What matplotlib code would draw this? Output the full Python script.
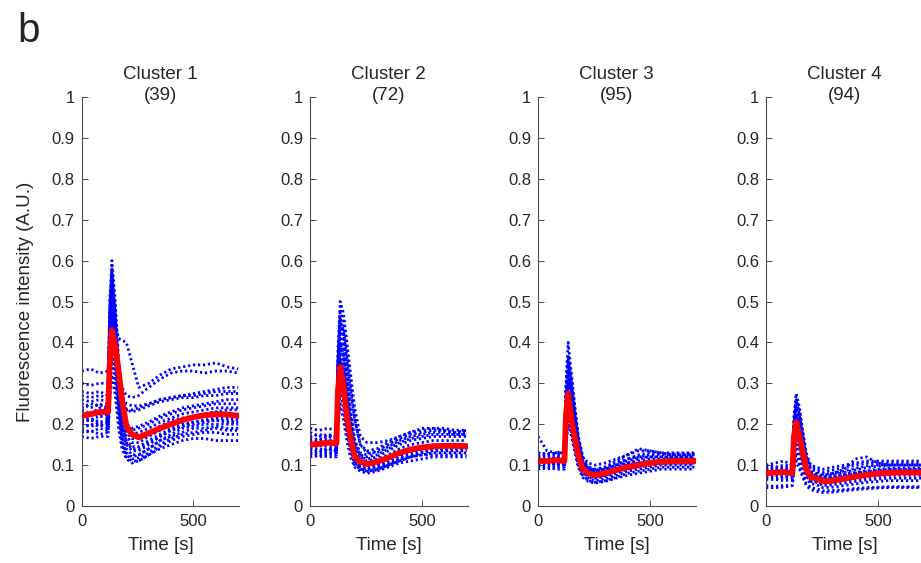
import numpy as np
import matplotlib.pyplot as plt

plt.rcParams['font.family'] = ['Liberation Sans', 'DejaVu Sans']

# sampling times [s], shared by every trace
time_s = [0, 40, 80, 118, 125, 135, 150, 165, 180, 200, 225, 255, 300, 350, 400, 450, 500, 550, 600, 650, 700]

cluster_names = ['Cluster 1', 'Cluster 2', 'Cluster 3', 'Cluster 4']
cluster_sizes = [39, 72, 95, 94]

y_ticks = [0, 0.1, 0.2, 0.3, 0.4, 0.5, 0.6, 0.7, 0.8, 0.9, 1]
x_ticks = [0, 500]

# single cells (subset of the traces)
c1_cells = [
    [0.33, 0.335, 0.325, 0.33, 0.45, 0.50, 0.45, 0.41, 0.405, 0.40, 0.35, 0.29, 0.30, 0.32, 0.335, 0.34, 0.345, 0.345, 0.35, 0.34, 0.335],
    [0.30, 0.295, 0.30, 0.30, 0.42, 0.48, 0.40, 0.33, 0.29, 0.27, 0.265, 0.27, 0.29, 0.31, 0.325, 0.33, 0.33, 0.325, 0.33, 0.33, 0.325],
    [0.28, 0.275, 0.28, 0.27, 0.45, 0.55, 0.46, 0.34, 0.27, 0.25, 0.245, 0.245, 0.25, 0.26, 0.265, 0.27, 0.275, 0.28, 0.285, 0.29, 0.29],
    [0.26, 0.255, 0.26, 0.255, 0.48, 0.58, 0.48, 0.34, 0.26, 0.235, 0.23, 0.235, 0.245, 0.255, 0.26, 0.265, 0.265, 0.27, 0.27, 0.275, 0.275],
    [0.24, 0.25, 0.245, 0.25, 0.50, 0.60, 0.50, 0.36, 0.25, 0.20, 0.185, 0.19, 0.20, 0.215, 0.225, 0.235, 0.24, 0.245, 0.25, 0.25, 0.25],
    [0.23, 0.22, 0.235, 0.23, 0.40, 0.52, 0.42, 0.30, 0.21, 0.17, 0.155, 0.155, 0.17, 0.185, 0.20, 0.21, 0.22, 0.225, 0.23, 0.235, 0.235],
    [0.21, 0.215, 0.205, 0.21, 0.38, 0.45, 0.38, 0.26, 0.18, 0.15, 0.135, 0.135, 0.15, 0.17, 0.185, 0.195, 0.205, 0.21, 0.215, 0.215, 0.21],
    [0.20, 0.195, 0.20, 0.19, 0.33, 0.40, 0.34, 0.24, 0.16, 0.13, 0.12, 0.125, 0.14, 0.16, 0.175, 0.19, 0.195, 0.20, 0.20, 0.20, 0.20],
    [0.18, 0.185, 0.175, 0.18, 0.30, 0.36, 0.30, 0.22, 0.15, 0.12, 0.11, 0.11, 0.125, 0.145, 0.16, 0.17, 0.175, 0.18, 0.18, 0.175, 0.175],
    [0.17, 0.165, 0.17, 0.17, 0.26, 0.32, 0.27, 0.19, 0.14, 0.115, 0.105, 0.11, 0.125, 0.14, 0.15, 0.16, 0.165, 0.165, 0.16, 0.16, 0.16],
    [0.22, 0.23, 0.22, 0.225, 0.44, 0.56, 0.45, 0.32, 0.22, 0.18, 0.165, 0.165, 0.18, 0.195, 0.21, 0.215, 0.22, 0.225, 0.23, 0.225, 0.225],
    [0.19, 0.20, 0.195, 0.20, 0.36, 0.47, 0.39, 0.27, 0.19, 0.16, 0.145, 0.145, 0.16, 0.175, 0.19, 0.20, 0.205, 0.21, 0.21, 0.21, 0.205],
    [0.25, 0.24, 0.25, 0.24, 0.42, 0.53, 0.43, 0.31, 0.23, 0.20, 0.19, 0.195, 0.205, 0.22, 0.23, 0.24, 0.245, 0.25, 0.255, 0.26, 0.26],
    [0.215, 0.21, 0.22, 0.215, 0.35, 0.43, 0.36, 0.25, 0.17, 0.14, 0.125, 0.125, 0.14, 0.16, 0.17, 0.18, 0.19, 0.19, 0.195, 0.19, 0.19],
    [0.205, 0.21, 0.20, 0.205, 0.40, 0.50, 0.41, 0.29, 0.20, 0.155, 0.14, 0.14, 0.155, 0.17, 0.185, 0.195, 0.20, 0.205, 0.21, 0.205, 0.205],
    [0.235, 0.225, 0.24, 0.235, 0.46, 0.57, 0.47, 0.33, 0.23, 0.19, 0.175, 0.18, 0.19, 0.205, 0.215, 0.225, 0.23, 0.235, 0.24, 0.24, 0.24],
    [0.185, 0.18, 0.19, 0.185, 0.32, 0.38, 0.32, 0.23, 0.16, 0.125, 0.115, 0.118, 0.13, 0.15, 0.165, 0.175, 0.18, 0.185, 0.19, 0.185, 0.185],
    [0.27, 0.265, 0.27, 0.265, 0.40, 0.49, 0.41, 0.31, 0.25, 0.235, 0.235, 0.24, 0.25, 0.26, 0.265, 0.27, 0.27, 0.275, 0.28, 0.28, 0.28],
]
c1_mean = [0.22, 0.225, 0.23, 0.23, 0.34, 0.43, 0.39, 0.33, 0.26, 0.195, 0.175, 0.168, 0.178, 0.19, 0.20, 0.21, 0.217, 0.222, 0.224, 0.224, 0.22]

c2_cells = [
    [0.19, 0.185, 0.19, 0.185, 0.38, 0.50, 0.47, 0.40, 0.33, 0.24, 0.17, 0.155, 0.155, 0.16, 0.17, 0.18, 0.185, 0.19, 0.185, 0.18, 0.18],
    [0.17, 0.175, 0.17, 0.175, 0.36, 0.46, 0.42, 0.33, 0.24, 0.16, 0.13, 0.125, 0.135, 0.15, 0.165, 0.175, 0.18, 0.185, 0.185, 0.18, 0.185],
    [0.16, 0.165, 0.16, 0.165, 0.33, 0.42, 0.36, 0.28, 0.21, 0.14, 0.12, 0.115, 0.12, 0.135, 0.15, 0.16, 0.165, 0.17, 0.17, 0.17, 0.17],
    [0.15, 0.145, 0.155, 0.15, 0.30, 0.38, 0.32, 0.24, 0.18, 0.125, 0.11, 0.105, 0.11, 0.12, 0.13, 0.14, 0.145, 0.15, 0.15, 0.15, 0.15],
    [0.14, 0.14, 0.135, 0.14, 0.26, 0.33, 0.28, 0.21, 0.16, 0.115, 0.10, 0.095, 0.10, 0.11, 0.12, 0.13, 0.135, 0.14, 0.14, 0.14, 0.14],
    [0.13, 0.125, 0.13, 0.13, 0.22, 0.29, 0.24, 0.18, 0.14, 0.10, 0.09, 0.085, 0.09, 0.10, 0.11, 0.12, 0.125, 0.13, 0.13, 0.13, 0.13],
    [0.12, 0.125, 0.12, 0.12, 0.20, 0.25, 0.21, 0.16, 0.12, 0.095, 0.085, 0.08, 0.085, 0.095, 0.105, 0.11, 0.115, 0.12, 0.12, 0.12, 0.12],
    [0.155, 0.16, 0.15, 0.16, 0.34, 0.44, 0.40, 0.31, 0.22, 0.15, 0.125, 0.12, 0.125, 0.14, 0.155, 0.165, 0.17, 0.175, 0.175, 0.175, 0.175],
    [0.145, 0.15, 0.145, 0.145, 0.28, 0.35, 0.30, 0.22, 0.17, 0.12, 0.105, 0.10, 0.105, 0.115, 0.125, 0.135, 0.14, 0.145, 0.145, 0.145, 0.145],
    [0.135, 0.13, 0.14, 0.135, 0.24, 0.31, 0.26, 0.19, 0.15, 0.105, 0.095, 0.09, 0.095, 0.105, 0.115, 0.125, 0.13, 0.135, 0.135, 0.135, 0.135],
    [0.18, 0.17, 0.175, 0.17, 0.35, 0.48, 0.45, 0.38, 0.30, 0.21, 0.15, 0.135, 0.14, 0.155, 0.17, 0.18, 0.19, 0.19, 0.19, 0.185, 0.185],
    [0.125, 0.12, 0.125, 0.125, 0.25, 0.32, 0.27, 0.20, 0.15, 0.11, 0.095, 0.09, 0.095, 0.10, 0.115, 0.12, 0.125, 0.125, 0.125, 0.125, 0.125],
    [0.165, 0.16, 0.17, 0.165, 0.35, 0.45, 0.43, 0.36, 0.29, 0.21, 0.15, 0.13, 0.13, 0.145, 0.16, 0.17, 0.175, 0.18, 0.18, 0.175, 0.175],
    [0.15, 0.155, 0.15, 0.155, 0.31, 0.40, 0.37, 0.30, 0.23, 0.16, 0.12, 0.11, 0.115, 0.125, 0.14, 0.15, 0.155, 0.16, 0.16, 0.16, 0.16],
    [0.14, 0.135, 0.14, 0.14, 0.27, 0.36, 0.33, 0.26, 0.20, 0.14, 0.11, 0.10, 0.10, 0.11, 0.125, 0.135, 0.14, 0.145, 0.15, 0.15, 0.15],
    [0.13, 0.135, 0.13, 0.13, 0.23, 0.30, 0.27, 0.21, 0.16, 0.11, 0.09, 0.085, 0.088, 0.10, 0.11, 0.12, 0.13, 0.135, 0.135, 0.135, 0.135],
]
c2_mean = [0.15, 0.152, 0.155, 0.153, 0.28, 0.34, 0.29, 0.22, 0.17, 0.12, 0.108, 0.103, 0.108, 0.118, 0.13, 0.138, 0.143, 0.146, 0.147, 0.147, 0.146]

c3_cells = [
    [0.17, 0.135, 0.13, 0.13, 0.30, 0.40, 0.32, 0.24, 0.17, 0.12, 0.105, 0.10, 0.105, 0.115, 0.125, 0.135, 0.135, 0.13, 0.13, 0.13, 0.13],
    [0.13, 0.125, 0.13, 0.135, 0.28, 0.37, 0.30, 0.22, 0.16, 0.11, 0.095, 0.09, 0.095, 0.105, 0.115, 0.12, 0.125, 0.125, 0.125, 0.125, 0.125],
    [0.12, 0.12, 0.115, 0.12, 0.26, 0.33, 0.27, 0.20, 0.14, 0.10, 0.09, 0.085, 0.09, 0.10, 0.105, 0.115, 0.12, 0.12, 0.12, 0.12, 0.12],
    [0.11, 0.105, 0.11, 0.11, 0.23, 0.29, 0.24, 0.18, 0.13, 0.095, 0.08, 0.075, 0.08, 0.09, 0.10, 0.105, 0.11, 0.11, 0.115, 0.115, 0.115],
    [0.10, 0.10, 0.105, 0.10, 0.20, 0.26, 0.21, 0.16, 0.12, 0.085, 0.07, 0.068, 0.072, 0.08, 0.09, 0.095, 0.10, 0.105, 0.105, 0.105, 0.105],
    [0.09, 0.095, 0.09, 0.09, 0.17, 0.22, 0.18, 0.14, 0.10, 0.075, 0.062, 0.058, 0.062, 0.07, 0.08, 0.085, 0.09, 0.095, 0.095, 0.095, 0.095],
    [0.115, 0.11, 0.12, 0.115, 0.24, 0.31, 0.25, 0.19, 0.135, 0.10, 0.085, 0.08, 0.085, 0.095, 0.105, 0.11, 0.115, 0.115, 0.115, 0.115, 0.115],
    [0.105, 0.11, 0.10, 0.105, 0.21, 0.28, 0.22, 0.17, 0.125, 0.09, 0.075, 0.07, 0.075, 0.085, 0.095, 0.10, 0.105, 0.11, 0.11, 0.11, 0.11],
    [0.125, 0.13, 0.125, 0.125, 0.27, 0.35, 0.29, 0.21, 0.15, 0.105, 0.09, 0.088, 0.095, 0.11, 0.125, 0.14, 0.135, 0.13, 0.125, 0.125, 0.125],
    [0.095, 0.09, 0.095, 0.095, 0.15, 0.20, 0.17, 0.13, 0.095, 0.07, 0.06, 0.056, 0.06, 0.068, 0.075, 0.08, 0.085, 0.09, 0.09, 0.09, 0.09],
    [0.12, 0.125, 0.12, 0.12, 0.27, 0.36, 0.31, 0.24, 0.17, 0.12, 0.095, 0.088, 0.09, 0.10, 0.11, 0.12, 0.12, 0.12, 0.12, 0.12, 0.12],
    [0.105, 0.10, 0.105, 0.105, 0.22, 0.30, 0.26, 0.20, 0.14, 0.10, 0.08, 0.072, 0.075, 0.085, 0.095, 0.10, 0.105, 0.105, 0.105, 0.105, 0.105],
    [0.10, 0.095, 0.10, 0.10, 0.19, 0.25, 0.22, 0.17, 0.12, 0.085, 0.068, 0.062, 0.066, 0.075, 0.085, 0.09, 0.095, 0.10, 0.10, 0.10, 0.10],
    [0.13, 0.125, 0.13, 0.125, 0.25, 0.33, 0.28, 0.22, 0.16, 0.11, 0.09, 0.085, 0.09, 0.10, 0.115, 0.125, 0.13, 0.128, 0.128, 0.128, 0.128],
]
c3_mean = [0.11, 0.11, 0.112, 0.11, 0.22, 0.275, 0.21, 0.165, 0.125, 0.09, 0.08, 0.076, 0.08, 0.088, 0.095, 0.10, 0.105, 0.108, 0.11, 0.11, 0.11]

c4_cells = [
    [0.10, 0.105, 0.11, 0.10, 0.22, 0.275, 0.24, 0.18, 0.13, 0.10, 0.095, 0.09, 0.095, 0.10, 0.105, 0.11, 0.11, 0.11, 0.11, 0.11, 0.11],
    [0.095, 0.09, 0.095, 0.095, 0.20, 0.25, 0.21, 0.16, 0.11, 0.085, 0.08, 0.075, 0.08, 0.09, 0.115, 0.12, 0.105, 0.10, 0.10, 0.10, 0.10],
    [0.085, 0.09, 0.085, 0.085, 0.18, 0.22, 0.19, 0.14, 0.10, 0.08, 0.075, 0.07, 0.072, 0.078, 0.082, 0.086, 0.09, 0.092, 0.092, 0.092, 0.092],
    [0.075, 0.08, 0.075, 0.078, 0.16, 0.20, 0.16, 0.12, 0.085, 0.068, 0.065, 0.058, 0.06, 0.065, 0.07, 0.075, 0.078, 0.08, 0.08, 0.08, 0.08],
    [0.07, 0.068, 0.07, 0.07, 0.14, 0.17, 0.14, 0.10, 0.075, 0.06, 0.058, 0.05, 0.052, 0.056, 0.06, 0.064, 0.066, 0.068, 0.068, 0.068, 0.068],
    [0.045, 0.045, 0.046, 0.05, 0.10, 0.13, 0.10, 0.075, 0.055, 0.045, 0.042, 0.037, 0.038, 0.04, 0.043, 0.045, 0.046, 0.047, 0.047, 0.047, 0.047],
    [0.09, 0.085, 0.09, 0.09, 0.19, 0.24, 0.20, 0.15, 0.105, 0.08, 0.078, 0.072, 0.076, 0.082, 0.088, 0.094, 0.097, 0.10, 0.10, 0.10, 0.10],
    [0.08, 0.085, 0.08, 0.082, 0.17, 0.21, 0.18, 0.13, 0.095, 0.075, 0.07, 0.065, 0.066, 0.072, 0.076, 0.08, 0.084, 0.086, 0.086, 0.086, 0.086],
    [0.065, 0.065, 0.062, 0.065, 0.12, 0.15, 0.12, 0.09, 0.068, 0.055, 0.052, 0.045, 0.046, 0.05, 0.054, 0.058, 0.06, 0.062, 0.062, 0.062, 0.062],
    [0.10, 0.095, 0.10, 0.098, 0.21, 0.26, 0.22, 0.17, 0.12, 0.095, 0.09, 0.083, 0.088, 0.095, 0.10, 0.105, 0.105, 0.105, 0.105, 0.105, 0.105],
    [0.09, 0.095, 0.09, 0.09, 0.20, 0.26, 0.23, 0.18, 0.12, 0.09, 0.085, 0.078, 0.08, 0.086, 0.092, 0.098, 0.10, 0.10, 0.10, 0.10, 0.10],
    [0.08, 0.075, 0.08, 0.08, 0.16, 0.22, 0.19, 0.14, 0.10, 0.078, 0.072, 0.066, 0.068, 0.074, 0.08, 0.084, 0.087, 0.09, 0.09, 0.09, 0.09],
    [0.07, 0.075, 0.07, 0.072, 0.13, 0.18, 0.15, 0.11, 0.08, 0.065, 0.06, 0.055, 0.057, 0.062, 0.066, 0.07, 0.073, 0.075, 0.075, 0.075, 0.075],
    [0.05, 0.048, 0.05, 0.05, 0.09, 0.11, 0.09, 0.07, 0.05, 0.04, 0.036, 0.033, 0.034, 0.037, 0.04, 0.042, 0.044, 0.045, 0.045, 0.045, 0.045],
]
c4_mean = [0.08, 0.082, 0.083, 0.08, 0.17, 0.205, 0.17, 0.13, 0.09, 0.07, 0.068, 0.06, 0.062, 0.067, 0.072, 0.076, 0.079, 0.081, 0.082, 0.082, 0.082]

all_cells = [c1_cells, c2_cells, c3_cells, c4_cells]
all_means = [c1_mean, c2_mean, c3_mean, c4_mean]

W, H = 921, 563
fig = plt.figure(figsize=(W / 100, H / 100), dpi=100)

lefts = [81.7, 310, 538, 766]   # axes left edges in pixels
ax_w, ax_bottom, ax_top = 157.6, 506, 97
dark = '#262626'

for i in range(4):
    ax = fig.add_axes([lefts[i] / W, (H - ax_bottom) / H, ax_w / W, (ax_bottom - ax_top) / H])
    for trace in all_cells[i]:
        ax.plot(time_s, trace, color='b', lw=2.0, linestyle=(0, (0.8, 1.0)))
    ax.plot(time_s, all_means[i], color='r', lw=4.2, zorder=5)

    ax.set_xlim(0, 705)
    ax.set_ylim(0, 1)
    ax.set_xticks(x_ticks)
    ax.set_yticks(y_ticks)
    ax.set_yticklabels([f'{v:g}' for v in y_ticks])
    ax.spines['top'].set_visible(False)
    ax.spines['right'].set_visible(False)
    for s in ['left', 'bottom']:
        ax.spines[s].set_color('0.3')
        ax.spines[s].set_linewidth(0.8)
    ax.tick_params(direction='in', length=4, width=0.7, color='0.3', labelsize=12, labelcolor=dark)
    ax.tick_params(axis='y', pad=5)
    ax.tick_params(axis='x', pad=6)

    ax.set_xlabel('Time [s]', fontsize=13.5, color=dark)
    ax.xaxis.set_label_coords(0.5, -0.075)

    ax.text(0.5, (ax_bottom - 79) / (ax_bottom - ax_top), cluster_names[i], transform=ax.transAxes,
            ha='center', va='baseline', fontsize=13.5, color=dark)
    ax.text(0.5, (ax_bottom - 100) / (ax_bottom - ax_top), f'({cluster_sizes[i]})', transform=ax.transAxes,
            ha='center', va='baseline', fontsize=13.5, color=dark)

fig.text(25 / W, 0.5 * ((H - ax_bottom) + (H - ax_top)) / H, 'Fluorescence intensity (A.U.)',
         rotation=90, ha='center', va='center', fontsize=13.5, color=dark)
fig.text(17 / W, 1 - 42 / H, 'b', fontsize=29, color=dark, va='baseline', ha='left')

fig.savefig('out.png', dpi=100)
